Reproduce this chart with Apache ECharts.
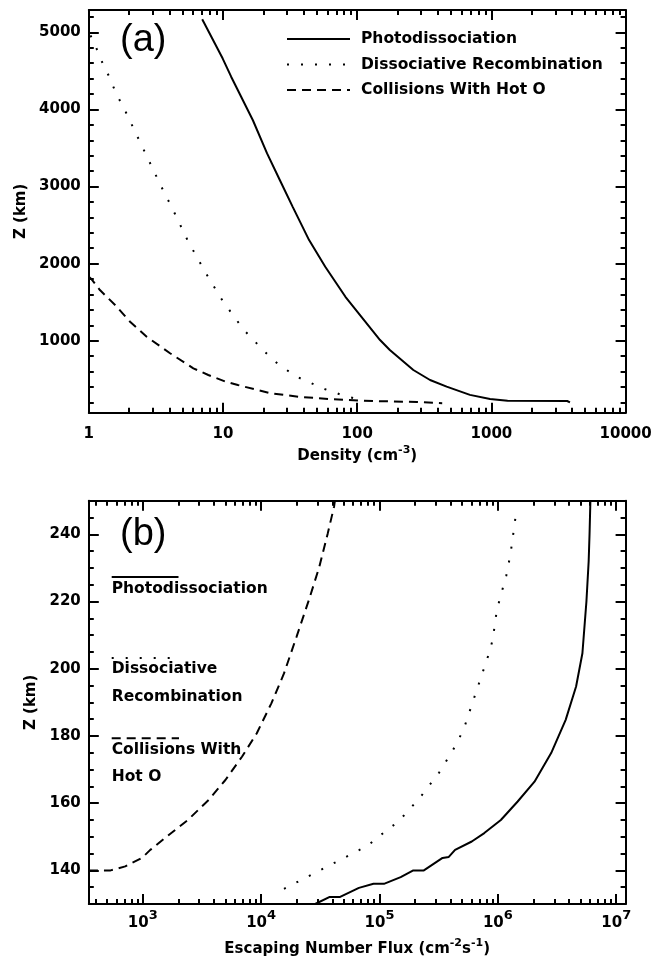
<!DOCTYPE html>
<html>
<head>
<meta charset="utf-8">
<script src="https://cdn.jsdelivr.net/npm/echarts@6/dist/echarts.min.js"></script>
<style>
html,body{margin:0;padding:0;background:#fff;}
#chart{width:654px;height:959px;}
</style>
</head>
<body>
<div id="chart"></div>
<script>
// ---------- Panel (a): density vs altitude ----------
const namesA = ['Photodissociation', 'Dissociative Recombination', 'Collisions With Hot O'];

const photoA_x = [7.0, 9.95, 11.5, 16.7, 21.3, 26.5, 33.0, 43.8, 57.8, 81.7, 148, 175, 262, 349, 464, 692, 977, 1159, 1320, 3670, 3850];
const photoA_y = [5170, 4660, 4425, 3860, 3430, 3085, 2740, 2305, 1960, 1570, 1009, 879, 620, 490, 405, 297, 244, 231, 220, 218, 200];

const recA_x = [1.03, 1.21, 1.28, 1.40, 1.61, 1.83, 3.42, 4.25, 5.51, 6.37, 7.34, 9.67, 11.6, 14.3, 20.5, 25.4, 35.1, 57.8, 77.1, 102];
const recA_y = [4960, 4693, 4576, 4446, 4196, 4014, 3020, 2695, 2284, 2089, 1895, 1550, 1355, 1140, 855, 705, 535, 370, 295, 240];

const collA_x = [1.0, 1.05, 1.21, 1.57, 2.03, 2.70, 4.03, 6.01, 7.77, 10.4, 12.9, 22.8, 37.7, 66.7, 102, 136, 279, 430];
const collA_y = [1830, 1796, 1657, 1463, 1246, 1052, 837, 642, 555, 470, 425, 317, 270, 240, 224, 217, 204, 190];

const xTicksA = [1, 10, 100, 1000, 10000];
const yTicksA = [1000, 2000, 3000, 4000, 5000];

// ---------- Panel (b): escaping flux vs altitude ----------
const photoB_x = [2.86e4, 3.8e4, 4.65e4, 6.7e4, 8.9e4, 1.09e5, 1.51e5, 1.93e5, 2.37e5, 3.41e5, 3.85e5, 4.35e5, 6.02e5, 7.68e5, 1.06e6, 1.47e6, 2.04e6, 2.82e6, 3.74e6, 4.58e6, 5.18e6, 5.6e6, 5.85e6, 5.95e6, 6.05e6];
const photoB_y = [130, 132.1, 132.1, 134.8, 136, 136, 138, 140, 140, 143.7, 144, 146.1, 148.6, 151.1, 155, 160.5, 166.4, 174.9, 184.8, 194.7, 204.6, 220, 232, 240, 250];

const recB_x = [1.56e4, 1.75e4, 7.9e4, 1.03e5, 1.45e5, 2.18e5, 3.19e5, 4.18e5, 5.12e5, 8.33e5, 9.03e5, 9.8e5, 1.06e6, 1.18e6, 1.28e6, 1.43e6];
const recB_y = [134.5, 135.4, 147.3, 150.6, 154.6, 161.5, 169.1, 175.8, 181.8, 204.1, 208.5, 217.4, 221.9, 227.8, 234.2, 246.7];

const collB_x = [351, 535, 711, 984, 1157, 1602, 2404, 3608, 4990, 6910, 9190, 1.22e4, 1.56e4, 1.99e4, 2.53e4, 3.1e4, 3.65e4, 4.13e4, 4.2e4];
const collB_y = [140, 140, 141.2, 143.7, 146.1, 150.1, 155, 161, 166.9, 173.9, 180.8, 189.7, 198.6, 209.5, 220.4, 230.3, 240.2, 248.2, 250];

const xTicksB = [1e3, 1e4, 1e5, 1e6, 1e7];
const yTicksB = [140, 160, 180, 200, 220, 240];

// ---------- helpers (tick positions only) ----------
function logMinor(lo, hi) {
  const out = [];
  for (let e = -1; e <= 8; e++) {
    for (let m = 2; m <= 9; m++) {
      const v = m * Math.pow(10, e);
      if (v > lo && v < hi) out.push(v);
    }
  }
  return out;
}
function linMinor(lo, hi, step) {
  const out = [];
  for (let v = Math.ceil(lo / step) * step; v <= hi; v += step) out.push(v);
  return out;
}
const pairs = (xs, ys) => xs.map((x, i) => [x, ys[i]]);

const FONT = 'DejaVu Sans';
const BLACK = '#000';
const labelStyle = { color: BLACK, fontFamily: FONT, fontWeight: 'bold', fontSize: 15 };

const rangeA = { xMin: 1, xMax: 10000, yMin: 66, yMax: 5290 };
const rangeB = { xMin: 350, xMax: 1.2e7, yMin: 130, yMax: 250 };

function xAxes(g, r, major, minor, fmt, name, nameGap, margin, tickRich, nameRich) {
  const base = {
    gridIndex: g, type: 'log', logBase: 10, min: r.xMin, max: r.xMax,
    splitLine: { show: false }, minorTick: { show: false }, minorSplitLine: { show: false }
  };
  const line = { show: true, onZero: false, lineStyle: { color: BLACK, width: 2 } };
  const tick = (len, vals) => ({ show: true, inside: true, length: len, customValues: vals, lineStyle: { color: BLACK, width: 2 } });
  return [
    Object.assign({}, base, {
      position: 'bottom', axisLine: line, axisTick: tick(10, major),
      axisLabel: Object.assign({ show: true, customValues: major, formatter: fmt, margin: margin, rich: tickRich }, labelStyle),
      name: name, nameLocation: 'middle', nameGap: nameGap,
      nameTextStyle: Object.assign({ rich: nameRich }, labelStyle)
    }),
    Object.assign({}, base, { position: 'bottom', axisLine: { show: false }, axisTick: tick(5, minor), axisLabel: { show: false } }),
    Object.assign({}, base, { position: 'top', axisLine: line, axisTick: tick(10, major), axisLabel: { show: false } }),
    Object.assign({}, base, { position: 'top', axisLine: { show: false }, axisTick: tick(5, minor), axisLabel: { show: false } })
  ];
}
function yAxes(g, r, major, minor, nameGap) {
  const base = {
    gridIndex: g, type: 'value', min: r.yMin, max: r.yMax,
    splitLine: { show: false }, minorTick: { show: false }
  };
  const line = { show: true, onZero: false, lineStyle: { color: BLACK, width: 2 } };
  const tick = (len, vals) => ({ show: true, inside: true, length: len, customValues: vals, lineStyle: { color: BLACK, width: 2 } });
  return [
    Object.assign({}, base, {
      position: 'left', axisLine: line, axisTick: tick(10, major),
      axisLabel: Object.assign({ show: true, customValues: major, margin: 8, formatter: v => String(Math.round(v)) }, labelStyle),
      name: 'Z (km)', nameLocation: 'middle', nameGap: nameGap, nameRotate: 90,
      nameTextStyle: labelStyle
    }),
    Object.assign({}, base, { position: 'left', axisLine: { show: false }, axisTick: tick(5, minor), axisLabel: { show: false } }),
    Object.assign({}, base, { position: 'right', axisLine: line, axisTick: tick(10, major), axisLabel: { show: false } }),
    Object.assign({}, base, { position: 'right', axisLine: { show: false }, axisTick: tick(5, minor), axisLabel: { show: false } })
  ];
}

const supRich = {
  s: { fontFamily: FONT, fontWeight: 'bold', fontSize: 11, color: BLACK, padding: [0, 0, 12, 0] }
};
const supRichTick = {
  s: { fontFamily: FONT, fontWeight: 'bold', fontSize: 13, color: BLACK, padding: [0, 0, 16, 0] }
};

const fmtA = v => String(Math.round(v));
const fmtB = v => '10{s|' + Math.round(Math.log10(v)) + '}';

const xAxisList = [].concat(
  xAxes(0, rangeA, xTicksA, logMinor(rangeA.xMin, rangeA.xMax), fmtA, 'Density (cm{s|-3})', 32, 14, null, supRich),
  xAxes(1, rangeB, xTicksB, logMinor(rangeB.xMin, rangeB.xMax), fmtB, 'Escaping Number Flux (cm{s|-2}s{s|-1})', 34, 5, supRichTick, supRich)
);

const yAxisList = [].concat(
  yAxes(0, rangeA, yTicksA, linMinor(200, 5200, 200), 57),
  yAxes(1, rangeB, yTicksB, linMinor(130, 250, 5), 47)
);

function mkSeries(name, xi, yi, xs, ys, type) {
  const ls = { color: BLACK, width: 2 };
  if (type === 'dashed') ls.type = [9, 6];
  if (type === 'dotted') ls.type = [2, 12];
  return {
    name: name, type: 'line', xAxisIndex: xi, yAxisIndex: yi,
    data: pairs(xs, ys), showSymbol: false, symbol: 'none',
    lineStyle: ls, itemStyle: { color: BLACK }, silent: true, clip: true
  };
}

const series = [
  mkSeries(namesA[0], 0, 0, photoA_x, photoA_y, 'solid'),
  mkSeries(namesA[1], 0, 0, recA_x, recA_y, 'dotted'),
  mkSeries(namesA[2], 0, 0, collA_x, collA_y, 'dashed'),
  mkSeries(namesA[0], 4, 4, photoB_x, photoB_y, 'solid'),
  mkSeries(namesA[1], 4, 4, recB_x, recB_y, 'dotted'),
  mkSeries(namesA[2], 4, 4, collB_x, collB_y, 'dashed')
];

const legendFont = 'bold 15.5px "DejaVu Sans"';
const graphic = [
  { type: 'text', left: 120, top: 22, style: { text: '(a)', font: '38px "Liberation Sans"', fill: BLACK } },
  { type: 'text', left: 120, top: 516, style: { text: '(b)', font: '38px "Liberation Sans"', fill: BLACK } },
  { type: 'line', shape: { x1: 111.7, y1: 577, x2: 178.5, y2: 577 }, style: { stroke: BLACK, lineWidth: 2 } },
  { type: 'text', x: 111.7, y: 589, style: { text: 'Photodissociation', fill: BLACK, font: legendFont, verticalAlign: 'middle' } },
  { type: 'line', shape: { x1: 111.7, y1: 658, x2: 178.5, y2: 658 }, style: { stroke: BLACK, lineWidth: 2, lineDash: [2, 12] } },
  { type: 'text', x: 111.7, y: 669, style: { text: 'Dissociative', fill: BLACK, font: legendFont, verticalAlign: 'middle' } },
  { type: 'text', x: 111.7, y: 697, style: { text: 'Recombination', fill: BLACK, font: legendFont, verticalAlign: 'middle' } },
  { type: 'line', shape: { x1: 111.7, y1: 738.3, x2: 179, y2: 738.3 }, style: { stroke: BLACK, lineWidth: 2, lineDash: [9, 6] } },
  { type: 'text', x: 111.7, y: 750, style: { text: 'Collisions With', fill: BLACK, font: legendFont, verticalAlign: 'middle' } },
  { type: 'text', x: 111.7, y: 777, style: { text: 'Hot O', fill: BLACK, font: legendFont, verticalAlign: 'middle' } }
];

const option = {
  animation: false,
  backgroundColor: '#fff',
  grid: [
    { left: 88.8, top: 10, width: 536.8, height: 402.7, outerBoundsMode: 'none', containLabel: false },
    { left: 88.8, top: 500.7, width: 536.8, height: 403.3, outerBoundsMode: 'none', containLabel: false }
  ],
  legend: {
    show: true, orient: 'vertical', left: 286, top: 31, padding: 0,
    itemWidth: 63, itemHeight: 14, itemGap: 9.5,
    data: namesA, selectedMode: false,
    itemStyle: { opacity: 0 },
    textStyle: { fontFamily: FONT, fontWeight: 'bold', fontSize: 15.5, color: BLACK, padding: [0, 0, 0, 6] }
  },
  xAxis: xAxisList,
  yAxis: yAxisList,
  series: series,
  graphic: graphic
};

const chart = echarts.init(document.getElementById('chart'), null, { renderer: 'canvas' });
chart.setOption(option);
</script>
</body>
</html>
